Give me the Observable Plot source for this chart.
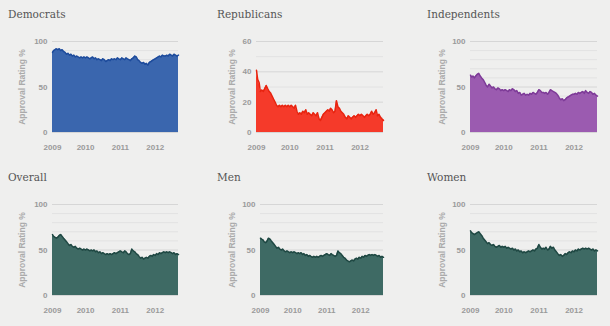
<!DOCTYPE html>
<html>
<head>
<meta charset="utf-8">
<script src="https://cdn.jsdelivr.net/npm/d3@7"></script>
<script src="https://cdn.jsdelivr.net/npm/@observablehq/plot@0.6"></script>
<style>
  html, body { margin: 0; padding: 0; background: #efefee; }
  #root { position: relative; width: 610px; height: 326px; background: #efefee; overflow: hidden; }
  .title { position: absolute; font-family: "DejaVu Serif", serif; font-size: 10.5px; color: #555; white-space: nowrap; }
  .panel { position: absolute; }
</style>
</head>
<body>
<div id="root"></div>
<script>
// Half-monthly sample dates: Jan 20 2009, then 1st & 16th of each month Feb 2009 – Aug 2012, then Sep 1 2012
const dates = [new Date(Date.UTC(2009, 0, 20))];
for (let y = 2009; y <= 2012; y++) {
  for (let m = (y === 2009 ? 1 : 0); m <= (y === 2012 ? 7 : 11); m++) {
    dates.push(new Date(Date.UTC(y, m, 1)), new Date(Date.UTC(y, m, 16)));
  }
}
dates.push(new Date(Date.UTC(2012, 8, 1)));

const democrats = [
  88, 90, 91, 92, 91, 92, 90, 91, 89, 88, 86, 87, 85, 86, 84, 85, 83, 84, 83, 82, 83, 82, 83,
  82, 83, 82, 81, 82, 83, 81, 82, 80, 81, 80, 79, 81, 80, 78, 79, 80, 79, 81, 80, 81, 80, 82, 81,
  80, 82, 81, 80, 82, 81, 80, 79, 81, 82, 84, 83, 80, 79, 77, 76, 77, 75, 76, 74, 77, 78, 79, 80,
  81, 82, 83, 84, 83, 85, 84, 84, 85, 84, 86, 85, 84, 86, 85, 84, 85
];
const republicans = [
  41, 35, 33, 27, 28, 27, 29, 31, 29, 27, 26, 24, 22, 20, 18, 17, 18, 17, 18, 17, 18, 17, 18,
  17, 18, 17, 16, 18, 14, 12, 13, 12, 14, 13, 15, 12, 13, 12, 11, 13, 12, 11, 13, 9, 8, 10, 12,
  13, 14, 15, 14, 16, 15, 13, 14, 21, 17, 16, 14, 13, 12, 10, 9, 11, 10, 9, 10, 11, 10, 11, 12,
  11, 12, 11, 10, 11, 12, 11, 12, 14, 12, 13, 15, 11, 12, 10, 9, 8
];
const independents = [
  63, 61, 62, 60, 62, 64, 65, 62, 60, 58, 55, 52, 50, 53, 51, 49, 50, 48, 47, 49, 48, 46, 47,
  46, 47, 46, 45, 47, 46, 48, 47, 45, 46, 43, 44, 41, 42, 43, 41, 42, 41, 43, 42, 44, 43, 42, 44,
  47, 46, 44, 44, 43, 44, 42, 44, 47, 46, 45, 44, 43, 41, 38, 36, 37, 35, 36, 38, 39, 40, 41, 42,
  42, 43, 42, 44, 43, 44, 45, 43, 46, 44, 43, 45, 44, 42, 43, 41, 40
];
const overall = [
  67, 65, 64, 63, 64, 66, 67, 65, 63, 61, 59, 57, 55, 56, 54, 53, 54, 52, 51, 52, 51, 50, 51,
  50, 51, 50, 49, 50, 49, 50, 48, 49, 47, 48, 46, 47, 46, 45, 46, 45, 46, 45, 46, 47, 46, 47, 48,
  49, 48, 47, 49, 48, 46, 45, 46, 51, 49, 48, 46, 45, 43, 41, 42, 40, 41, 42, 41, 43, 44, 43, 45,
  44, 46, 45, 47, 46, 47, 48, 47, 48, 47, 48, 47, 46, 47, 45, 46, 45
];
const men = [
  63, 62, 61, 59, 58, 60, 63, 62, 60, 58, 56, 54, 52, 53, 51, 50, 51, 49, 48, 49, 48, 47, 48,
  47, 48, 47, 46, 47, 46, 47, 45, 46, 44, 45, 43, 44, 43, 42, 43, 42, 43, 42, 43, 44, 43, 44, 45,
  46, 45, 44, 46, 45, 44, 43, 44, 49, 47, 46, 44, 42, 41, 39, 38, 37, 38, 39, 38, 40, 41, 40, 42,
  41, 43, 42, 44, 43, 44, 45, 44, 45, 44, 45, 44, 43, 44, 42, 43, 42
];
const women = [
  71, 69, 68, 67, 68, 69, 70, 68, 66, 63, 61, 59, 57, 58, 56, 55, 56, 54, 53, 54, 55, 53, 54,
  53, 54, 52, 53, 52, 51, 52, 50, 51, 49, 50, 48, 49, 47, 48, 47, 48, 49, 48, 49, 50, 49, 51, 52,
  56, 53, 51, 52, 51, 53, 50, 51, 54, 52, 53, 50, 48, 46, 44, 45, 43, 44, 46, 45, 47, 48, 47, 49,
  48, 50, 49, 51, 50, 51, 52, 51, 52, 51, 52, 51, 50, 51, 49, 50, 49
];

const yearTicks = ["2009-01-20", "2010-01-01", "2011-01-01", "2012-01-01"];
const yearLabels = ["2009", "2010", "2011", "2012"];
const ticks100 = [0, 50, 100];
const ticks60 = [0, 20, 40, 60];
const grid100 = [10, 20, 30, 40, 60, 70, 80, 90];
const grid60 = [10, 30, 50];

const xDomain = [new Date(Date.UTC(2009, 0, 20)), new Date(Date.UTC(2012, 8, 1))];

const panels = [
  {title: "Democrats",   values: democrats,    ymax: 100, ticks: ticks100, grid: grid100, fill: "#3a66ae", stroke: "#1d4b9c", left: 0,   top: 0,   ml: 52, mr: 22, tx: 8,   lx: 22},
  {title: "Republicans", values: republicans,  ymax: 60,  ticks: ticks60,  grid: grid60,  fill: "#f53a2a", stroke: "#e82410", left: 200, top: 0,   ml: 56, mr: 17, tx: 217, lx: 32},
  {title: "Independents",values: independents, ymax: 100, ticks: ticks100, grid: grid100, fill: "#9b5bb0", stroke: "#7e3b98", left: 400, top: 0,   ml: 70, mr: 13, tx: 427, lx: 42},
  {title: "Overall",     values: overall,      ymax: 100, ticks: ticks100, grid: grid100, fill: "#3e6a64", stroke: "#1f4843", left: 0,   top: 163, ml: 52, mr: 22, tx: 8,   lx: 22},
  {title: "Men",         values: men,          ymax: 100, ticks: ticks100, grid: grid100, fill: "#3e6a64", stroke: "#1f4843", left: 200, top: 163, ml: 60, mr: 17, tx: 217, lx: 32},
  {title: "Women",       values: women,        ymax: 100, ticks: ticks100, grid: grid100, fill: "#3e6a64", stroke: "#1f4843", left: 400, top: 163, ml: 70, mr: 13, tx: 427, lx: 42}
];

const root = document.getElementById("root");
const tickDates = yearTicks.map(d => new Date(d + "T00:00:00Z"));

for (const p of panels) {
  const data = dates.map((d, i) => ({date: d, value: p.values[i]}));
  const t = document.createElement("div");
  t.className = "title";
  t.style.left = p.tx + "px";
  t.style.top = (p.top + 8) + "px";
  t.textContent = p.title;
  root.appendChild(t);

  const width = (p.left === 400 ? 210 : 200);
  const chart = Plot.plot({
    width,
    height: 135,
    marginTop: 16,
    marginBottom: 28,
    marginLeft: p.ml,
    marginRight: p.mr,
    style: {background: "transparent", fontFamily: "Liberation Sans, Arial, sans-serif", fontSize: "8px", fontWeight: "bold", overflow: "visible"},
    x: {type: "utc", domain: xDomain},
    y: {domain: [0, p.ymax]},
    marks: [
      Plot.ruleY(p.grid, {stroke: "#e2e2e2", strokeWidth: 1}),
      Plot.ruleY(p.ticks, {stroke: "#d6d6d6", strokeWidth: 1}),
      Plot.areaY(data, {x: "date", y: "value", fill: p.fill, curve: "linear"}),
      Plot.lineY(data, {x: "date", y: "value", stroke: p.stroke, strokeWidth: 1.5}),
      Plot.axisY(p.ticks, {tickSize: 0, tickPadding: 5, label: null, fill: "#9a9a9a", fontWeight: "bold"}),
      Plot.axisX(tickDates, {tickSize: 0, tickPadding: 12, label: null, fill: "#9a9a9a", fontWeight: "bold",
        tickFormat: (d, i) => yearLabels[i]}),
      Plot.text(["Approval Rating %"], {frameAnchor: "left", textAnchor: "middle", rotate: -90, dx: -(p.ml - p.lx), fill: "#aaaaaa", fontWeight: "bold", fontSize: 8.5})
    ]
  });
  const wrap = document.createElement("div");
  wrap.className = "panel";
  wrap.style.left = p.left + "px";
  wrap.style.top = (p.top + 25) + "px";
  wrap.appendChild(chart);
  root.appendChild(wrap);
}
</script>
</body>
</html>
